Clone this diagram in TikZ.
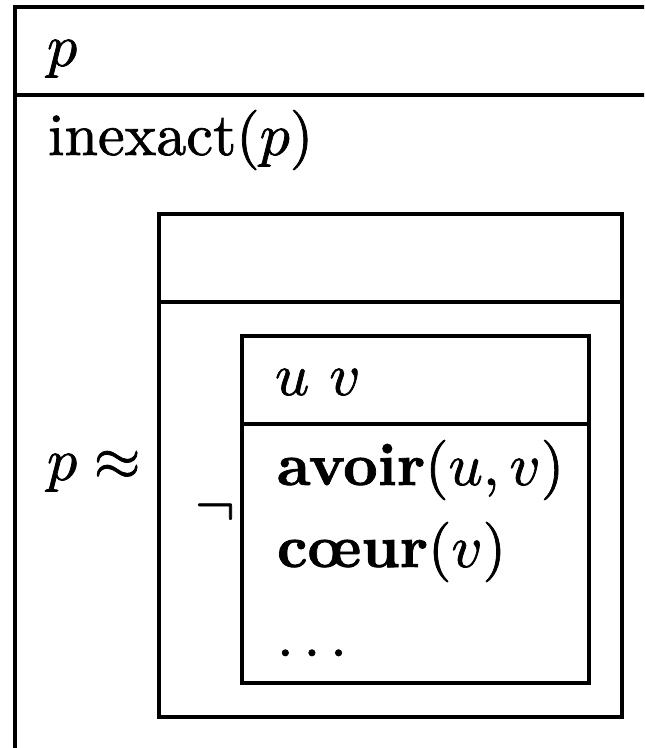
\documentclass[tikz,border=0pt]{standalone}
\usepackage{fontspec}
\newcommand{\heavytext}[1]{\special{pdf:literal direct 2 Tr 0.12 w}#1\special{pdf:literal direct 0 Tr}}
\begin{document}
\begin{tikzpicture}[x=0.16667pt, y=-0.16667pt,
  boxline/.style={line width=0.6pt, line cap=rect},
  txt/.style={anchor=base west, inner sep=0pt, outer sep=0pt}]
\useasboundingbox (0,0) rectangle (644,748);
\begin{scope}
\clip (0,0) rectangle (644,748);
% outer box (cut off at right and bottom)
\draw[boxline] (15,760) -- (15,7) -- (660,7);
\draw[boxline] (15,95) -- (660,95);
% middle box
\draw[boxline] (159,214) rectangle (622,717);
\draw[boxline] (159,302) -- (622,302);
% inner box
\draw[boxline] (242,336) rectangle (589,683);
\draw[boxline] (242,424) -- (589,424);
\end{scope}
% texts
\node[txt] (refp) at (47,66) {\heavytext{$p$}};
\node[txt] (inex) at (48,155) {\heavytext{inexact$(p)$}};
\node[txt] (approx) at (47,480) {\heavytext{$p\approx$}};
\node[txt] (neg) at (195,525) {\heavytext{$\neg$}};
\node[txt] (uv) at (275,395) {\heavytext{$u\ v$}};
\node[txt] (avoir) at (277,485) {\heavytext{\textbf{avoir}$(u,v)$}};
\node[txt] (coeur) at (277,567) {\heavytext{\textbf{cœur}$(v)$}};
\node[txt] (dots) at (277,656) {\heavytext{$\ldots$}};
\end{tikzpicture}
\end{document}
